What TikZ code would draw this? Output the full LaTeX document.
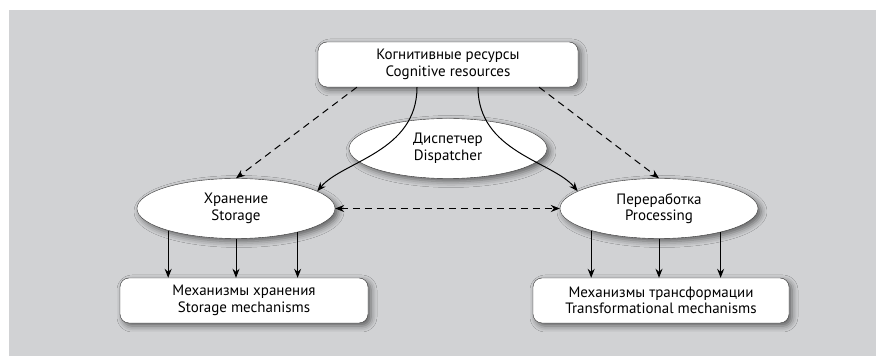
\documentclass[tikz,border=0pt]{standalone}
\usepackage{fontspec}
\setmainfont{PT Sans}
\usetikzlibrary{shapes.geometric, arrows.meta, positioning, shadows.blur}
\definecolor{panel}{RGB}{209,210,212}
\tikzstyle{arrow} = [line width=1pt,-{Stealth[length=9pt,width=7pt,inset=3pt]}]
\tikzstyle{dasharrow} = [arrow, dash pattern=on 7pt off 5pt]
\tikzstyle{shade} = [blur shadow={shadow xshift=3pt, shadow yshift=-3pt, shadow blur radius=6pt, shadow opacity=55}]
\tikzstyle{box} = [rectangle, draw=black!80, fill=white, rounded corners=9pt, minimum height=45pt, inner sep=2pt, align=center, font=\fontsize{15}{16.5}\selectfont, shade]
\tikzstyle{oval} = [ellipse, draw=black!80, fill=white, minimum width=198pt, minimum height=60pt, inner sep=0pt, align=center, font=\fontsize{15}{16.5}\selectfont, shade]

\begin{document}
\begin{tikzpicture}[node distance=60pt]
    % Background
    \useasboundingbox (0,0) rectangle (876pt,356pt);
    \fill [panel] (9pt,0) rectangle (876pt,346pt);

    % Nodes
    \node (res) [box, minimum width=260pt] at (448pt,291.5pt) {Когнитивные ресурсы\\Cognitive resources};
    \node (disp) [oval, below of=res, yshift=-24pt] {Диспетчер\\Dispatcher};
    \node (store) [oval, below of=disp, xshift=-212pt] {Хранение\\Storage};
    \node (proc) [oval, below of=disp, xshift=211pt] {Переработка\\Processing};
    \node (stmech) [box, minimum width=248pt, below of=store, yshift=-32pt, xshift=8pt] {Механизмы хранения\\Storage mechanisms};
    \node (trmech) [box, minimum width=256pt, below of=proc, yshift=-32pt, xshift=2pt] {Механизмы трансформации\\Transformational mechanisms};

    % Arrows
    \draw [dasharrow] (res.194) -- (store.north);
    \draw [dasharrow] (res.-14) -- (proc.north);
    \draw [dasharrow, {Stealth[length=9pt,width=7pt,inset=3pt]}-{Stealth[length=9pt,width=7pt,inset=3pt]}] (store.east) -- (proc.west);
    \draw [arrow] ([xshift=-31pt]res.south) .. controls +(0,-65pt) and +(25pt,30pt) .. (store.12);
    \draw [arrow] ([xshift=30pt]res.south) .. controls +(0,-65pt) and +(-25pt,30pt) .. (proc.168);
    \foreach \a in {198,270,339} \draw [arrow] (store.\a) -- (store.\a |- stmech.north);
    \foreach \a in {198,270,339} \draw [arrow] (proc.\a) -- (proc.\a |- trmech.north);
\end{tikzpicture}
\end{document}
